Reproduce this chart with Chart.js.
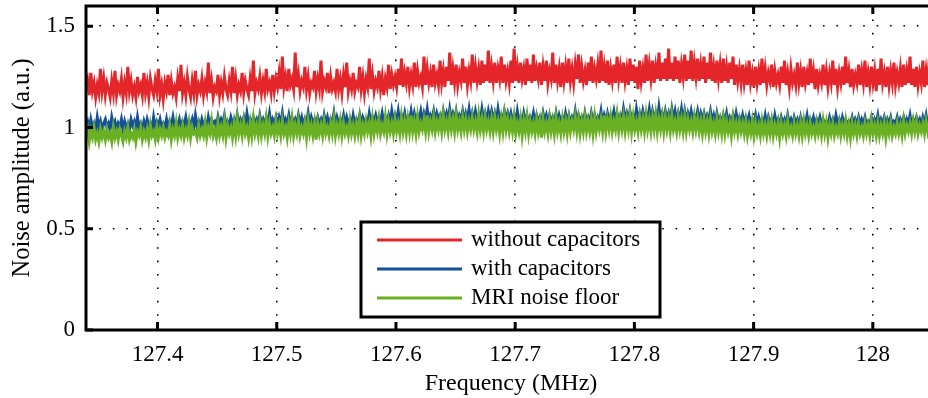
<!DOCTYPE html>
<html>
<head>
<meta charset="utf-8">
<script src="https://cdn.jsdelivr.net/npm/chart.js@4.4.0/dist/chart.umd.min.js"></script>
<style>
  html, body { margin: 0; padding: 0; background: #fff; overflow: hidden; }
  #wrap { width: 940px; height: 398px; }
</style>
</head>
<body>
<div id="wrap"><canvas id="noiseChart" width="940" height="398"></canvas></div>
<script>
// frequency sampling of the traces (MHz)
const fStart = 127.34;
const fStep = 0.00135;

const xTicks = [127.4, 127.5, 127.6, 127.7, 127.8, 127.9, 128];
const yTicks = [0, 0.5, 1, 1.5];

const seriesNames = ['without capacitors', 'with capacitors', 'MRI noise floor'];

// noise amplitude (a.u.)
const withoutCaps = [
  1.19, 1.23, 1.16, 1.27, 1.18, 1.22, 1.15, 1.21, 1.17, 1.29, 1.18, 1.24,
  1.16, 1.22, 1.19, 1.15, 1.23, 1.17, 1.28, 1.16, 1.21, 1.18, 1.24, 1.15,
  1.22, 1.17, 1.30, 1.18, 1.23, 1.16, 1.20, 1.15, 1.25, 1.18, 1.21, 1.16,
  1.27, 1.17, 1.22, 1.15, 1.24, 1.19, 1.16, 1.23, 1.18, 1.29, 1.16, 1.21,
  1.14, 1.22, 1.18, 1.26, 1.16, 1.23, 1.17, 1.20, 1.15, 1.24, 1.18, 1.31,
  1.17, 1.22, 1.16, 1.25, 1.19, 1.15, 1.23, 1.17, 1.28, 1.16, 1.21, 1.18,
  1.24, 1.16, 1.22, 1.18, 1.32, 1.17, 1.23, 1.15, 1.20, 1.18, 1.26, 1.16,
  1.22, 1.17, 1.25, 1.19, 1.16, 1.23, 1.18, 1.30, 1.17, 1.24, 1.16, 1.21,
  1.18, 1.27, 1.17, 1.23, 1.19, 1.16, 1.24, 1.18, 1.33, 1.17, 1.22, 1.19,
  1.25, 1.17, 1.23, 1.18, 1.29, 1.19, 1.22, 1.17, 1.26, 1.18, 1.24, 1.20,
  1.27, 1.19, 1.35, 1.20, 1.25, 1.18, 1.29, 1.21, 1.24, 1.19, 1.37, 1.20,
  1.26, 1.18, 1.23, 1.20, 1.30, 1.19, 1.25, 1.17, 1.22, 1.20, 1.28, 1.18,
  1.24, 1.19, 1.33, 1.18, 1.23, 1.20, 1.27, 1.17, 1.25, 1.19, 1.22, 1.18,
  1.29, 1.19, 1.24, 1.17, 1.26, 1.20, 1.32, 1.18, 1.23, 1.19, 1.27, 1.18,
  1.22, 1.20, 1.30, 1.19, 1.25, 1.17, 1.24, 1.20, 1.34, 1.19, 1.26, 1.18,
  1.23, 1.20, 1.28, 1.19, 1.25, 1.16, 1.24, 1.20, 1.31, 1.19, 1.26, 1.21,
  1.25, 1.20, 1.29, 1.21, 1.34, 1.20, 1.27, 1.22, 1.30, 1.20, 1.26, 1.21,
  1.32, 1.20, 1.28, 1.22, 1.25, 1.20, 1.35, 1.21, 1.29, 1.22, 1.27, 1.20,
  1.31, 1.22, 1.26, 1.21, 1.33, 1.22, 1.28, 1.20, 1.30, 1.23, 1.37, 1.21,
  1.29, 1.22, 1.31, 1.21, 1.27, 1.23, 1.34, 1.22, 1.30, 1.21, 1.28, 1.23,
  1.36, 1.22, 1.30, 1.23, 1.29, 1.21, 1.33, 1.22, 1.31, 1.23, 1.38, 1.22,
  1.30, 1.23, 1.32, 1.22, 1.29, 1.24, 1.35, 1.22, 1.31, 1.23, 1.28, 1.22,
  1.33, 1.22, 1.39, 1.23, 1.30, 1.22, 1.32, 1.24, 1.29, 1.21, 1.34, 1.23,
  1.31, 1.22, 1.36, 1.23, 1.29, 1.24, 1.32, 1.21, 1.30, 1.23, 1.33, 1.22,
  1.28, 1.24, 1.37, 1.22, 1.31, 1.23, 1.29, 1.20, 1.32, 1.23, 1.30, 1.22,
  1.34, 1.23, 1.29, 1.22, 1.31, 1.24, 1.36, 1.22, 1.30, 1.23, 1.28, 1.21,
  1.32, 1.23, 1.35, 1.22, 1.29, 1.24, 1.31, 1.22, 1.38, 1.23, 1.30, 1.22,
  1.33, 1.21, 1.29, 1.23, 1.31, 1.22, 1.35, 1.24, 1.30, 1.22, 1.32, 1.23,
  1.29, 1.21, 1.34, 1.23, 1.31, 1.22, 1.30, 1.19, 1.33, 1.23, 1.29, 1.22,
  1.36, 1.23, 1.31, 1.24, 1.33, 1.22, 1.30, 1.24, 1.37, 1.23, 1.32, 1.24,
  1.34, 1.23, 1.39, 1.24, 1.32, 1.23, 1.35, 1.24, 1.33, 1.22, 1.31, 1.25,
  1.36, 1.23, 1.33, 1.24, 1.38, 1.23, 1.32, 1.25, 1.34, 1.23, 1.31, 1.24,
  1.35, 1.22, 1.32, 1.24, 1.37, 1.23, 1.30, 1.22, 1.33, 1.24, 1.31, 1.22,
  1.34, 1.23, 1.30, 1.22, 1.32, 1.24, 1.35, 1.21, 1.31, 1.23, 1.29, 1.22,
  1.31, 1.22, 1.28, 1.21, 1.33, 1.22, 1.27, 1.20, 1.30, 1.22, 1.28, 1.21,
  1.34, 1.22, 1.29, 1.21, 1.27, 1.23, 1.31, 1.20, 1.28, 1.22, 1.26, 1.21,
  1.30, 1.22, 1.33, 1.21, 1.27, 1.20, 1.29, 1.22, 1.26, 1.21, 1.32, 1.22,
  1.28, 1.20, 1.30, 1.22, 1.27, 1.21, 1.34, 1.22, 1.28, 1.19, 1.29, 1.21,
  1.26, 1.22, 1.31, 1.21, 1.28, 1.20, 1.27, 1.22, 1.33, 1.21, 1.29, 1.20,
  1.27, 1.22, 1.30, 1.21, 1.35, 1.22, 1.28, 1.20, 1.29, 1.21, 1.26, 1.22,
  1.31, 1.21, 1.28, 1.22, 1.33, 1.20, 1.27, 1.21, 1.30, 1.22, 1.28, 1.18,
  1.29, 1.21, 1.34, 1.22, 1.27, 1.20, 1.30, 1.21, 1.28, 1.22, 1.32, 1.21,
  1.27, 1.22, 1.29, 1.20, 1.31, 1.21, 1.28, 1.22, 1.35, 1.21, 1.29, 1.20,
  1.30, 1.21, 1.27, 1.22, 1.33, 1.20, 1.28, 1.21, 1.34, 1.20, 1.29, 1.22
];

const withCaps = [
  1.01, 1.03, 0.99, 1.04, 1.00, 1.02, 0.99, 1.05, 1.00, 1.03, 0.99, 1.02,
  1.04, 1.00, 1.02, 0.99, 1.05, 1.01, 1.03, 0.99, 1.02, 1.00, 1.04, 0.99,
  1.03, 1.00, 1.02, 0.99, 1.04, 1.01, 1.03, 0.99, 1.05, 1.00, 1.02, 0.99,
  1.03, 1.00, 1.04, 1.01, 1.02, 0.99, 1.05, 1.00, 1.03, 1.01, 1.04, 1.00,
  1.02, 1.00, 1.04, 0.99, 1.03, 1.01, 1.05, 1.00, 1.02, 1.01, 1.04, 1.00,
  1.03, 1.01, 1.05, 1.00, 1.03, 1.01, 1.04, 1.00, 1.06, 1.01, 1.03, 1.00,
  1.04, 1.01, 1.03, 1.00, 1.05, 1.01, 1.04, 1.02, 1.03, 1.00, 1.05, 1.01,
  1.04, 1.02, 1.06, 1.01, 1.03, 1.01, 1.05, 1.02, 1.04, 1.00, 1.06, 1.01,
  1.04, 1.02, 1.05, 1.01, 1.07, 1.02, 1.04, 1.01, 1.05, 1.02, 1.04, 1.01,
  1.06, 1.02, 1.04, 1.01, 1.05, 1.02, 1.07, 1.01, 1.04, 1.02, 1.05, 1.01,
  1.05, 1.02, 1.07, 1.01, 1.04, 1.02, 1.06, 1.01, 1.05, 1.02, 1.04, 1.01,
  1.06, 1.02, 1.05, 1.01, 1.04, 1.02, 1.07, 1.01, 1.05, 1.02, 1.04, 1.01,
  1.05, 1.02, 1.04, 1.01, 1.06, 1.02, 1.05, 1.01, 1.04, 1.02, 1.07, 1.01,
  1.05, 1.02, 1.04, 1.02, 1.06, 1.01, 1.05, 1.02, 1.04, 1.01, 1.06, 1.02,
  1.04, 1.02, 1.06, 1.01, 1.05, 1.03, 1.04, 1.02, 1.07, 1.02, 1.05, 1.03,
  1.06, 1.02, 1.05, 1.03, 1.07, 1.02, 1.05, 1.03, 1.06, 1.02, 1.08, 1.03,
  1.06, 1.03, 1.08, 1.02, 1.06, 1.03, 1.07, 1.02, 1.05, 1.03, 1.08, 1.03,
  1.07, 1.03, 1.06, 1.04, 1.08, 1.03, 1.07, 1.04, 1.09, 1.03, 1.06, 1.04,
  1.08, 1.03, 1.07, 1.04, 1.06, 1.03, 1.08, 1.04, 1.07, 1.03, 1.09, 1.04,
  1.07, 1.04, 1.08, 1.03, 1.06, 1.04, 1.08, 1.03, 1.07, 1.04, 1.09, 1.03,
  1.07, 1.03, 1.08, 1.04, 1.06, 1.03, 1.09, 1.04, 1.07, 1.03, 1.08, 1.04,
  1.08, 1.04, 1.07, 1.03, 1.09, 1.04, 1.06, 1.03, 1.08, 1.04, 1.07, 1.03,
  1.07, 1.03, 1.06, 1.02, 1.08, 1.03, 1.05, 1.02, 1.07, 1.03, 1.06, 1.02,
  1.05, 1.03, 1.07, 1.02, 1.06, 1.03, 1.05, 1.02, 1.07, 1.03, 1.06, 1.02,
  1.06, 1.02, 1.05, 1.03, 1.07, 1.02, 1.06, 1.03, 1.05, 1.02, 1.07, 1.03,
  1.06, 1.02, 1.05, 1.03, 1.08, 1.02, 1.06, 1.03, 1.05, 1.02, 1.07, 1.03,
  1.05, 1.02, 1.07, 1.03, 1.06, 1.02, 1.05, 1.03, 1.08, 1.02, 1.06, 1.03,
  1.07, 1.03, 1.06, 1.04, 1.08, 1.03, 1.07, 1.04, 1.06, 1.03, 1.09, 1.04,
  1.07, 1.03, 1.08, 1.04, 1.06, 1.03, 1.09, 1.04, 1.07, 1.03, 1.08, 1.04,
  1.07, 1.04, 1.09, 1.03, 1.08, 1.04, 1.07, 1.03, 1.10, 1.04, 1.07, 1.03,
  1.08, 1.04, 1.07, 1.03, 1.09, 1.04, 1.08, 1.03, 1.07, 1.04, 1.09, 1.03,
  1.08, 1.03, 1.07, 1.04, 1.08, 1.03, 1.06, 1.04, 1.08, 1.03, 1.07, 1.04,
  1.07, 1.03, 1.06, 1.04, 1.08, 1.03, 1.06, 1.02, 1.07, 1.03, 1.05, 1.02,
  1.06, 1.03, 1.07, 1.02, 1.05, 1.03, 1.06, 1.02, 1.07, 1.03, 1.05, 1.02,
  1.06, 1.02, 1.05, 1.03, 1.06, 1.02, 1.04, 1.02, 1.06, 1.01, 1.05, 1.02,
  1.04, 1.02, 1.06, 1.01, 1.05, 1.02, 1.04, 1.01, 1.06, 1.02, 1.04, 1.01,
  1.05, 1.02, 1.04, 1.01, 1.06, 1.02, 1.04, 1.01, 1.05, 1.02, 1.04, 1.01,
  1.05, 1.01, 1.04, 1.02, 1.06, 1.01, 1.04, 1.02, 1.05, 1.01, 1.04, 1.02,
  1.05, 1.01, 1.04, 1.02, 1.03, 1.01, 1.05, 1.02, 1.04, 1.01, 1.06, 1.02,
  1.04, 1.01, 1.05, 1.02, 1.04, 1.01, 1.03, 1.02, 1.05, 1.01, 1.04, 1.02,
  1.05, 1.01, 1.04, 1.02, 1.05, 1.01, 1.03, 1.02, 1.05, 1.01, 1.04, 1.02,
  1.06, 1.01, 1.04, 1.02, 1.05, 1.01, 1.04, 1.02, 1.05, 1.01, 1.03, 1.02,
  1.05, 1.01, 1.04, 1.02, 1.05, 1.01, 1.04, 1.02, 1.06, 1.01, 1.04, 1.02,
  1.05, 1.02, 1.04, 1.01, 1.05, 1.02, 1.06, 1.01, 1.04, 1.02, 1.05, 1.02
];

const noiseFloor = [
  0.96, 0.99, 0.93, 0.98, 0.95, 1.00, 0.94, 0.97, 0.93, 0.99, 0.95, 0.98,
  0.94, 0.99, 0.95, 0.97, 0.93, 1.00, 0.95, 0.98, 0.94, 0.99, 0.96, 0.93,
  0.98, 0.95, 1.00, 0.94, 0.97, 0.95, 0.99, 0.93, 0.98, 0.96, 1.00, 0.94,
  0.98, 0.95, 0.99, 0.94, 1.01, 0.96, 0.98, 0.94, 1.00, 0.95, 0.99, 0.96,
  1.00, 0.95, 0.98, 0.96, 1.01, 0.94, 0.99, 0.96, 1.02, 0.95, 0.99, 0.96,
  1.01, 0.95, 0.99, 0.96, 1.02, 0.95, 1.00, 0.97, 0.98, 0.95, 1.01, 0.96,
  0.99, 0.96, 1.02, 0.95, 1.00, 0.97, 1.03, 0.96, 0.99, 0.95, 1.02, 0.96,
  1.00, 0.96, 1.03, 0.95, 1.01, 0.97, 1.00, 0.95, 1.02, 0.96, 1.04, 0.97,
  1.01, 0.96, 1.03, 0.97, 1.00, 0.95, 1.02, 0.96, 1.04, 0.97, 1.01, 0.96,
  1.03, 0.96, 1.01, 0.97, 1.04, 0.96, 1.02, 0.97, 1.00, 0.96, 1.03, 0.97,
  1.01, 0.96, 1.03, 0.97, 1.00, 0.95, 1.02, 0.97, 1.04, 0.96, 1.01, 0.97,
  1.03, 0.96, 1.00, 0.97, 1.02, 0.95, 1.03, 0.97, 1.01, 0.96, 1.02, 0.94,
  1.02, 0.97, 1.01, 0.96, 1.03, 0.97, 1.00, 0.96, 1.02, 0.97, 1.04, 0.96,
  1.01, 0.97, 1.03, 0.96, 1.02, 0.97, 1.00, 0.96, 1.03, 0.97, 1.01, 0.96,
  1.02, 0.97, 1.04, 0.96, 1.01, 0.97, 1.03, 0.98, 1.02, 0.96, 1.04, 0.97,
  1.02, 0.98, 1.04, 0.97, 1.01, 0.98, 1.05, 0.97, 1.03, 0.98, 1.02, 0.97,
  1.04, 0.98, 1.02, 0.97, 1.05, 0.98, 1.03, 0.97, 1.04, 0.98, 1.06, 0.98,
  1.03, 0.97, 1.05, 0.98, 1.02, 0.99, 1.04, 0.98, 1.06, 0.98, 1.03, 0.99,
  1.05, 0.98, 1.03, 0.99, 1.04, 0.98, 1.06, 0.99, 1.03, 0.98, 1.05, 0.99,
  1.04, 0.98, 1.06, 0.99, 1.03, 0.98, 1.05, 0.99, 1.04, 0.98, 1.03, 0.99,
  1.05, 0.99, 1.03, 0.98, 1.06, 0.99, 1.04, 0.98, 1.05, 0.99, 1.03, 0.98,
  1.04, 0.98, 1.05, 0.99, 1.03, 0.97, 1.04, 0.98, 1.06, 0.99, 1.04, 0.98,
  1.03, 0.98, 1.05, 0.97, 1.02, 0.98, 1.04, 0.96, 1.03, 0.98, 1.05, 0.97,
  1.03, 0.98, 1.02, 0.97, 1.04, 0.98, 1.03, 0.95, 1.04, 0.98, 1.02, 0.97,
  1.04, 0.98, 1.03, 0.97, 1.05, 0.98, 1.02, 0.97, 1.04, 0.98, 1.03, 0.97,
  1.04, 0.98, 1.03, 0.99, 1.05, 0.98, 1.04, 0.97, 1.03, 0.98, 1.05, 0.98,
  1.03, 0.98, 1.04, 0.97, 1.05, 0.98, 1.03, 0.99, 1.04, 0.98, 1.06, 0.98,
  1.04, 0.99, 1.05, 0.98, 1.03, 0.99, 1.06, 0.98, 1.04, 0.99, 1.05, 0.98,
  1.04, 0.99, 1.06, 0.98, 1.05, 0.99, 1.03, 0.98, 1.05, 0.99, 1.04, 0.98,
  1.06, 0.99, 1.04, 0.98, 1.05, 0.99, 1.06, 0.98, 1.04, 0.99, 1.05, 0.98,
  1.05, 0.99, 1.04, 0.98, 1.06, 0.99, 1.03, 0.98, 1.05, 0.99, 1.04, 0.98,
  1.05, 0.98, 1.04, 0.99, 1.03, 0.98, 1.05, 0.99, 1.04, 0.98, 1.03, 0.97,
  1.04, 0.98, 1.03, 0.97, 1.04, 0.98, 1.02, 0.97, 1.04, 0.98, 1.03, 0.97,
  1.04, 0.97, 1.03, 0.98, 1.02, 0.96, 1.04, 0.98, 1.02, 0.97, 1.03, 0.98,
  1.02, 0.97, 1.03, 0.96, 1.01, 0.97, 1.03, 0.96, 1.02, 0.97, 1.01, 0.96,
  1.03, 0.97, 1.01, 0.96, 1.02, 0.97, 1.03, 0.96, 1.01, 0.97, 1.02, 0.95,
  1.02, 0.97, 1.01, 0.96, 1.03, 0.97, 1.00, 0.96, 1.02, 0.97, 1.01, 0.96,
  1.02, 0.96, 1.03, 0.97, 1.01, 0.96, 1.02, 0.97, 1.00, 0.96, 1.02, 0.97,
  1.01, 0.96, 1.03, 0.97, 1.02, 0.95, 1.01, 0.97, 1.02, 0.96, 1.00, 0.97,
  1.02, 0.96, 1.01, 0.97, 1.03, 0.96, 1.01, 0.95, 1.02, 0.97, 1.01, 0.96,
  1.02, 0.97, 1.00, 0.96, 1.02, 0.97, 1.01, 0.96, 1.03, 0.97, 1.01, 0.96,
  1.02, 0.96, 1.01, 0.97, 1.02, 0.95, 1.01, 0.97, 1.02, 0.96, 1.00, 0.97,
  1.02, 0.97, 1.01, 0.96, 1.03, 0.97, 1.01, 0.98, 1.02, 0.97, 1.03, 0.98,
  1.03, 0.97, 1.01, 0.98, 1.02, 0.97, 1.03, 0.98, 1.02, 0.97, 1.03, 0.99
];

const colors = ['#e4262b', '#124f9c', '#6ab023'];

function toPoints(values) {
  return values.map((v, i) => ({ x: fStart + i * fStep, y: v }));
}

const serif = 'Liberation Serif, Times New Roman, serif';

// keep the plot box fixed: no extra room for edge labels
function fixBox(size, key) {
  return s => {
    s[key] = size;
    s.paddingTop = 0;
    s.paddingBottom = 0;
    s.paddingLeft = 0;
    s.paddingRight = 0;
  };
}

// draws the thick axis box with inward tick marks (matlab look)
const axesBox = {
  id: 'axesBox',
  afterDatasetsDraw(chart) {
    const { ctx, chartArea: a, scales } = chart;
    ctx.save();
    ctx.strokeStyle = '#000';
    ctx.lineWidth = 3;
    ctx.beginPath();
    ctx.moveTo(a.right, a.top);
    ctx.lineTo(a.left, a.top);
    ctx.lineTo(a.left, a.bottom);
    ctx.lineTo(a.right, a.bottom);
    ctx.stroke();
    ctx.beginPath();
    xTicks.forEach(v => {
      const px = scales.x.getPixelForValue(v);
      ctx.moveTo(px, a.bottom);
      ctx.lineTo(px, a.bottom - 8);
      ctx.moveTo(px, a.top);
      ctx.lineTo(px, a.top + 8);
    });
    yTicks.forEach(v => {
      const py = scales.y.getPixelForValue(v);
      ctx.moveTo(a.left, py);
      ctx.lineTo(a.left + 7, py);
    });
    ctx.stroke();
    ctx.restore();
  }
};

// legend box placed inside the plot like the original
const boxLegend = {
  id: 'boxLegend',
  afterDraw(chart) {
    const { ctx } = chart;
    const x0 = 361, y0 = 222, w = 299, h = 95;
    ctx.save();
    ctx.fillStyle = '#fff';
    ctx.fillRect(x0, y0, w, h);
    ctx.strokeStyle = '#000';
    ctx.lineWidth = 3;
    ctx.strokeRect(x0, y0, w, h);
    ctx.font = '23px ' + serif;
    ctx.textBaseline = 'middle';
    chart.data.datasets.forEach((ds, i) => {
      const y = y0 + 18 + i * 29;
      ctx.strokeStyle = ds.borderColor;
      ctx.lineWidth = 3;
      ctx.beginPath();
      ctx.moveTo(377, y);
      ctx.lineTo(462, y);
      ctx.stroke();
      ctx.fillStyle = '#000';
      ctx.fillText(ds.label, 471, y);
    });
    ctx.restore();
  }
};

new Chart(document.getElementById('noiseChart'), {
  type: 'line',
  data: {
    datasets: [
      { label: seriesNames[0], data: toPoints(withoutCaps), borderColor: colors[0], order: 3 },
      { label: seriesNames[1], data: toPoints(withCaps), borderColor: colors[1], order: 2 },
      { label: seriesNames[2], data: toPoints(noiseFloor), borderColor: colors[2], order: 1 }
    ]
  },
  options: {
    responsive: false,
    animation: false,
    elements: {
      point: { radius: 0 },
      line: { borderWidth: 3, tension: 0 }
    },
    layout: { padding: { left: 0, top: 6, right: 4, bottom: 0 } },
    plugins: {
      legend: { display: false },
      tooltip: { enabled: false }
    },
    scales: {
      x: {
        type: 'linear',
        min: 127.34,
        max: 128.053,
        afterFit: fixBox(68, 'height'),
        afterBuildTicks: s => { s.ticks = xTicks.map(v => ({ value: v })); },
        grid: { color: '#000', lineWidth: 1.6, drawTicks: false },
        border: { display: false, dash: [1.6, 11.8] },
        ticks: {
          color: '#000',
          padding: 11,
          maxRotation: 0,
          font: { family: serif, size: 23 },
          callback: v => String(v)
        },
        title: {
          display: true,
          text: 'Frequency (MHz)',
          color: '#000',
          font: { family: serif, size: 24 },
          padding: { top: 0, bottom: 0 }
        }
      },
      y: {
        min: 0,
        max: 1.6,
        afterFit: fixBox(86, 'width'),
        afterBuildTicks: s => { s.ticks = yTicks.map(v => ({ value: v })); },
        grid: { color: '#000', lineWidth: 1.6, drawTicks: false },
        border: { display: false, dash: [1.6, 11.8] },
        ticks: {
          color: '#000',
          padding: 11,
          font: { family: serif, size: 23 },
          callback: v => String(v)
        },
        title: {
          display: true,
          text: 'Noise amplitude (a.u.)',
          color: '#000',
          font: { family: serif, size: 24.5 },
          padding: { top: 8, bottom: 0 }
        }
      }
    }
  },
  plugins: [axesBox, boxLegend]
});
</script>
</body>
</html>
